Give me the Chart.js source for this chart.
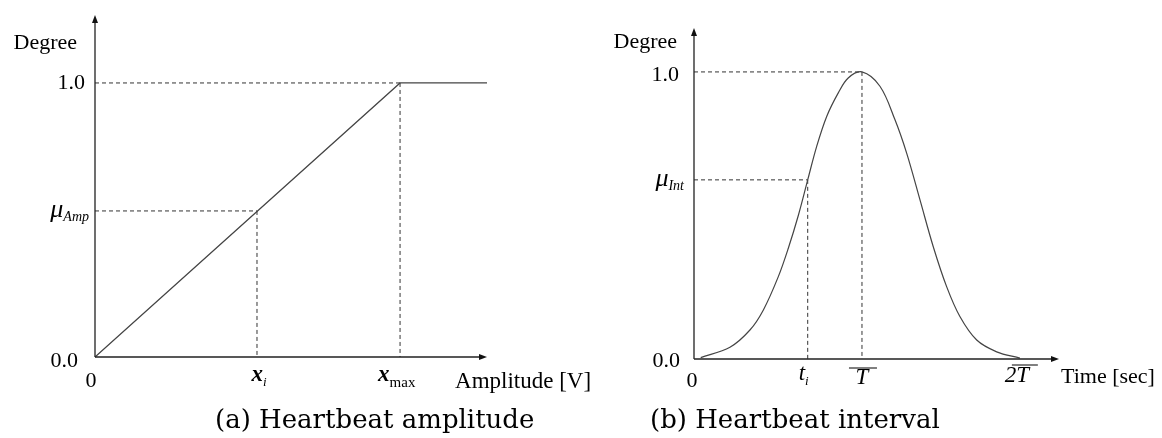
<!DOCTYPE html>
<html>
<head>
<meta charset="utf-8">
<script src="https://cdn.jsdelivr.net/npm/chart.js@4.4.1/dist/chart.umd.min.js"></script>
<style>
  body { margin: 0; background: #fff; }
  .panel { position: absolute; top: 0; height: 438px; }
</style>
</head>
<body>
<div class="panel" style="left:0;width:640px"><canvas id="amp-chart" width="640" height="438"></canvas></div>
<div class="panel" style="left:581px;width:581px"><canvas id="int-chart" width="581" height="438"></canvas></div>
<script>
// (a) amplitude membership: ramp up to x_max, then flat
const ampX = [0, 1, 1.285];
const ampY = [0, 1, 1];
const ampXi = 0.531;   // x_i
const ampMu = 0.533;   // mu_Amp
const ampXmax = 1;

// (b) interval membership: bell shaped, peak at T (=1)
const intX = [0.04, 0.214, 0.333, 0.413, 0.502, 0.561, 0.621, 0.677, 0.73, 0.79, 0.859, 0.918, 1.0,
              1.107, 1.196, 1.266, 1.345, 1.424, 1.504, 1.583, 1.683, 1.802, 1.94];
const intY = [0.005, 0.041, 0.101, 0.171, 0.287, 0.385, 0.5, 0.624, 0.74, 0.845, 0.927, 0.979, 1.0,
              0.95, 0.834, 0.717, 0.555, 0.392, 0.252, 0.148, 0.066, 0.025, 0.003];
const intTi = 0.677;   // t_i
const intMu = 0.624;   // mu_Int
const intT = 1;
const int2T = 1.94;

const SERIF = '"Liberation Serif", "Times New Roman", serif';
const CAPTION = '"DejaVu Serif", serif';

function text(ctx, s, x, y, font, align) {
  ctx.font = font;
  ctx.textAlign = align || "left";
  ctx.textBaseline = "alphabetic";
  ctx.fillStyle = "#000";
  ctx.fillText(s, x, y);
}

// main glyph followed by a smaller subscript
function subText(ctx, main, sub, x, y, mainFont, subFont, align, dy) {
  ctx.font = mainFont;
  const w1 = ctx.measureText(main).width;
  ctx.font = subFont;
  const w2 = ctx.measureText(sub).width;
  let left = x;
  if (align === "right") left = x - w1 - w2;
  if (align === "center") left = x - (w1 + w2) / 2;
  text(ctx, main, left, y, mainFont);
  text(ctx, sub, left + w1, y + dy, subFont);
}

function overline(ctx, x1, x2, y) {
  ctx.save();
  ctx.strokeStyle = "#000";
  ctx.lineWidth = 1;
  ctx.beginPath();
  ctx.moveTo(x1, y);
  ctx.lineTo(x2, y);
  ctx.stroke();
  ctx.restore();
}

function dashed(ctx, x1, y1, x2, y2) {
  ctx.save();
  ctx.strokeStyle = "#333";
  ctx.lineWidth = 1;
  ctx.setLineDash([4, 3]);
  ctx.beginPath();
  ctx.moveTo(x1, y1);
  ctx.lineTo(x2, y2);
  ctx.stroke();
  ctx.restore();
}

function arrowAxes(ctx, area) {
  ctx.save();
  ctx.strokeStyle = "#222";
  ctx.fillStyle = "#111";
  ctx.lineWidth = 1.3;
  ctx.beginPath();
  ctx.moveTo(area.left, area.bottom);
  ctx.lineTo(area.left, area.top + 4);
  ctx.moveTo(area.left, area.bottom);
  ctx.lineTo(area.right - 4, area.bottom);
  ctx.stroke();
  // arrow heads
  ctx.beginPath();
  ctx.moveTo(area.left, area.top);
  ctx.lineTo(area.left - 3, area.top + 8);
  ctx.lineTo(area.left + 3, area.top + 8);
  ctx.closePath();
  ctx.fill();
  ctx.beginPath();
  ctx.moveTo(area.right, area.bottom);
  ctx.lineTo(area.right - 8, area.bottom - 3);
  ctx.lineTo(area.right - 8, area.bottom + 3);
  ctx.closePath();
  ctx.fill();
  ctx.restore();
}

const sketchPlugin = {
  id: "sketch",
  beforeDatasetsDraw(chart, args, opts) {
    const X = (v) => chart.scales.x.getPixelForValue(v);
    const Y = (v) => chart.scales.y.getPixelForValue(v);
    opts.guides.forEach(([gx, gy]) => {
      dashed(chart.ctx, X(0), Y(gy), X(gx), Y(gy));
      dashed(chart.ctx, X(gx), Y(gy), X(gx), Y(0));
    });
  },
  afterDraw(chart, args, opts) {
    const X = (v) => chart.scales.x.getPixelForValue(v);
    const Y = (v) => chart.scales.y.getPixelForValue(v);
    arrowAxes(chart.ctx, chart.chartArea);
    opts.labels(chart.ctx, X, Y);
  },
};

function makeChart(id, xs, ys, xMax, yMax, padding, tension, sketch) {
  const ctx = document.getElementById(id).getContext("2d");
  return new Chart(ctx, {
    type: "line",
    data: {
      datasets: [{
        data: xs.map((x, i) => ({ x: x, y: ys[i] })),
        borderColor: "#444",
        borderWidth: 1.2,
        pointRadius: 0,
        tension: tension,
        clip: false,
      }],
    },
    options: {
      responsive: false,
      animation: false,
      layout: { padding: padding },
      plugins: { legend: { display: false }, tooltip: { enabled: false }, sketch: sketch },
      scales: {
        x: { type: "linear", min: 0, max: xMax, display: false },
        y: { type: "linear", min: 0, max: yMax, display: false },
      },
    },
    plugins: [sketchPlugin],
  });
}

makeChart("amp-chart", ampX, ampY, 1.285, 1.248,
  { left: 95, right: 153, top: 15, bottom: 81 }, 0, {
  guides: [[ampXmax, 1], [ampXi, ampMu]],
  labels(ctx, X, Y) {
    text(ctx, "Degree", X(0) - 18, 49, "22px " + SERIF, "right");
    text(ctx, "1.0", X(0) - 10, Y(1) + 6, "22px " + SERIF, "right");
    subText(ctx, "μ", "Amp", X(0) - 6, Y(ampMu) + 6, "italic 26px " + SERIF, "italic 14px " + SERIF, "right", 4);
    text(ctx, "0.0", X(0) - 17, Y(0) + 10, "22px " + SERIF, "right");
    text(ctx, "0", X(0) - 4, Y(0) + 30, "22px " + SERIF, "center");
    subText(ctx, "x", "i", X(ampXi) + 2, Y(0) + 24, "italic bold 23px " + SERIF, "italic 13px " + SERIF, "center", 5);
    subText(ctx, "x", "max", X(ampXmax) - 22, Y(0) + 24, "italic bold 23px " + SERIF, "15px " + SERIF, "left", 6);
    text(ctx, "Amplitude [V]", X(ampXmax) + 55, Y(0) + 31, "23px " + SERIF, "left");
    text(ctx, "(a) Heartbeat amplitude", 215, 428, "26px " + CAPTION, "left");
  },
});

makeChart("int-chart", intX, intY, 2.173, 1.153,
  { left: 113, right: 103, top: 28, bottom: 79 }, 0.35, {
  guides: [[intT, 1], [intTi, intMu]],
  labels(ctx, X, Y) {
    text(ctx, "Degree", X(0) - 17, 48, "22px " + SERIF, "right");
    text(ctx, "1.0", X(0) - 15, Y(1) + 9, "22px " + SERIF, "right");
    subText(ctx, "μ", "Int", X(0) - 10, Y(intMu) + 6, "italic 26px " + SERIF, "italic 14px " + SERIF, "right", 4);
    text(ctx, "0.0", X(0) - 14, Y(0) + 8, "22px " + SERIF, "right");
    text(ctx, "0", X(0) - 2, Y(0) + 28, "22px " + SERIF, "center");
    subText(ctx, "t", "i", X(intTi) - 4, Y(0) + 21, "italic 23px " + SERIF, "italic 13px " + SERIF, "center", 5);
    text(ctx, "T", X(intT), Y(0) + 25, "italic 23px " + SERIF, "center");
    overline(ctx, X(intT) - 13, X(intT) + 15, Y(0) + 9);
    text(ctx, "2T", X(int2T) - 3, Y(0) + 23, "italic 23px " + SERIF, "center");
    overline(ctx, X(int2T) - 8, X(int2T) + 18, Y(0) + 6);
    text(ctx, "Time [sec]", X(2.173) + 2, Y(0) + 24, "22px " + SERIF, "left");
    text(ctx, "(b) Heartbeat interval", 69, 428, "26px " + CAPTION, "left");
  },
});
</script>
</body>
</html>
